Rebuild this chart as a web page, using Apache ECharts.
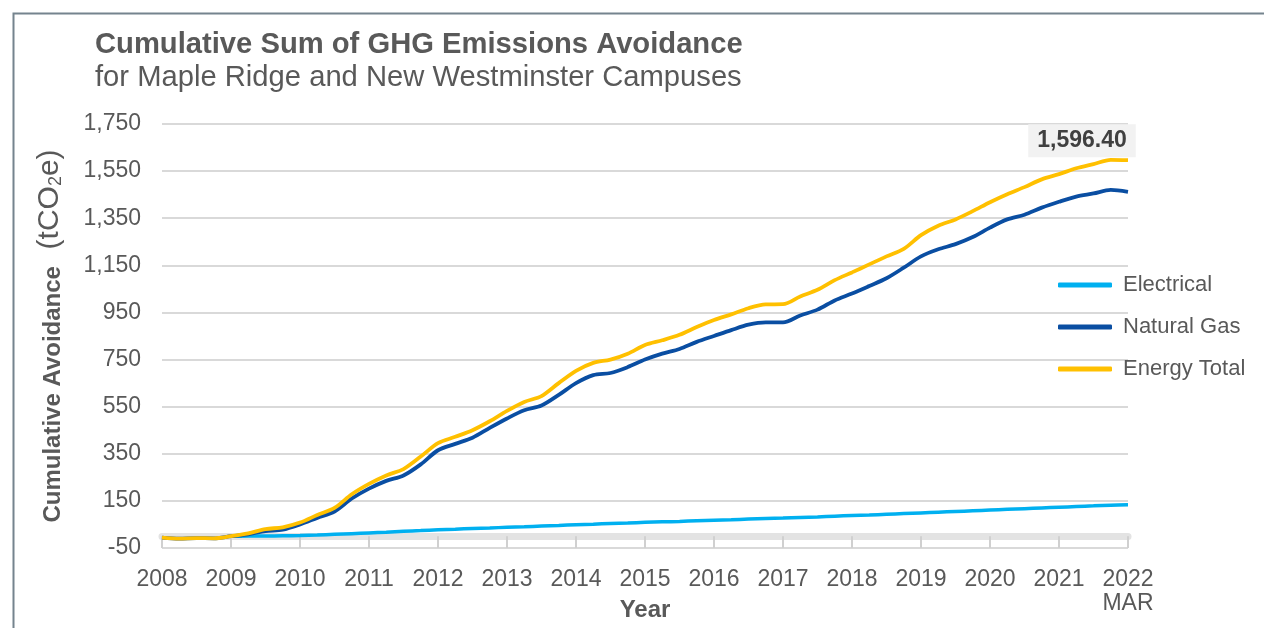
<!DOCTYPE html>
<html>
<head>
<meta charset="utf-8">
<script src="https://cdn.jsdelivr.net/npm/echarts@6/dist/echarts.min.js"></script>
<style>
html,body{margin:0;padding:0;background:#fff;}
#chart{width:1264px;height:628px;}
</style>
</head>
<body>
<div id="chart"></div>
<script>
// Month index from start of the 2008 tick (quarterly readings)
const months = [0,3,6,9,12,15,18,21,24,27,30,33,36,39,42,45,48,51,54,57,60,63,66,69,72,75,78,81,84,87,90,93,96,99,102,105,108,111,114,117,120,123,126,129,132,135,138,141,144,147,150,153,156,159,162,165,168];

const electrical = [null,null,null,null,0,0.5,1,2,3,5,8,11,14,17,21,24,27,30,33,35,38,40,43,46,49,51,54,56,59,61,63,66,68,70,73,75,77,80,82,85,88,90,93,96,99,102,105,108,111,114,117,120,123,126,129,132,134];

const naturalGas = [-6,-10,-8,-9,0,8,22,28,50,78,105,160,202,235,258,305,365,392,418,460,500,535,555,600,650,684,693,718,750,775,795,825,850,875,898,908,908,937,962,1001,1030,1062,1095,1140,1188,1218,1240,1270,1310,1345,1365,1395,1420,1442,1455,1470,1462];

const energyTotal = [-6,-10,-8,-9,0,12,30,38,58,90,120,178,222,258,285,338,395,422,450,488,532,570,595,650,702,736,750,775,812,832,855,888,918,942,968,984,985,1018,1046,1087,1120,1154,1188,1220,1278,1318,1345,1380,1418,1452,1482,1515,1537,1562,1580,1598,1596.40];

const xTickLabels = ['2008','2009','2010','2011','2012','2013','2014','2015','2016','2017','2018','2019','2020','2021','2022\nMAR'];
const seriesNames = ['Electrical','Natural Gas','Energy Total'];

const FONT = 'Liberation Sans, Arial, sans-serif';
const GREY = '#595959';

function pairs(vals){ return months.map((m,i)=>[m, vals[i]]); }
const lastIdx = months.length - 1;

const chart = echarts.init(document.getElementById('chart'));
chart.setOption({
  animation:false,
  backgroundColor:'#ffffff',
  graphic:[{type:'rect', left:11, top:11, shape:{width:1300, height:700}, style:{fill:'none', stroke:'#75848e', lineWidth:2}, z:-10}],
  title:[
    {text:'Cumulative Sum of GHG Emissions Avoidance', left:95, top:30, padding:0,
     textStyle:{fontFamily:FONT, fontSize:29.2, fontWeight:'bold', color:GREY}},
    {text:'for Maple Ridge and New Westminster Campuses', left:95, top:63, padding:0,
     textStyle:{fontFamily:FONT, fontSize:29.2, fontWeight:'normal', color:GREY}}
  ],
  legend:{
    orient:'vertical', left:1053, top:268, itemWidth:54, itemHeight:5, itemGap:18,
    icon:'roundRect',
    data:seriesNames,
    textStyle:{fontFamily:FONT, fontSize:22, color:GREY, lineHeight:24, padding:[0,0,0,6]}
  },
  grid:{left:162, right:136, top:124, bottom:80, containLabel:false, outerBoundsMode:'none'},
  xAxis:[{
    type:'value', min:0, max:168, interval:12,
    name:'Year', nameLocation:'middle', nameGap:50, nameMoveOverlap:false,
    nameTextStyle:{fontFamily:FONT, fontSize:24, fontWeight:'bold', color:GREY},
    axisLine:{onZero:true, lineStyle:{color:'#e3e3e3', width:7}},
    axisTick:{show:true, length:9, lineStyle:{color:'#d0d0d0', width:2}},
    axisLabel:{margin:20, fontFamily:FONT, fontSize:23, color:GREY, lineHeight:24,
      formatter: v => xTickLabels[Math.round(v/12)]},
    splitLine:{show:false}
  },{
    type:'value', min:0, max:168, interval:12, position:'bottom',
    axisLine:{show:false, onZero:true},
    axisTick:{show:true, inside:true, length:6, lineStyle:{color:'#d0d0d0', width:2}},
    axisLabel:{show:false}, splitLine:{show:false}
  }],
  yAxis:{
    type:'value', min:-50, max:1750, interval:200,
    name:'{b|Cumulative Avoidance}{r|  (tCO}{s|2}{r|e)}',
    nameLocation:'middle', nameGap:97, nameRotate:90, nameMoveOverlap:false,
    nameTextStyle:{fontFamily:FONT, fontSize:24, color:GREY,
      rich:{
        b:{fontFamily:FONT, fontSize:24, fontWeight:'bold', color:GREY, lineHeight:30, verticalAlign:'bottom'},
        r:{fontFamily:FONT, fontSize:30, color:GREY, lineHeight:30, verticalAlign:'bottom'},
        s:{fontFamily:FONT, fontSize:18, color:GREY, lineHeight:15, verticalAlign:'bottom'}
      }},
    axisLine:{show:false}, axisTick:{show:false},
    axisLabel:{margin:21, fontFamily:FONT, fontSize:23, color:GREY,
      formatter: v => v.toLocaleString('en-US')},
    splitLine:{show:true, lineStyle:{color:'#d9d9d9', width:2}}
  },
  series:[
    {name:seriesNames[0], type:'line', data:pairs(electrical), showSymbol:false, symbol:'none', smooth:0.3,
     lineStyle:{width:3.5, color:'#00b0f0'}, itemStyle:{color:'#00b0f0'}},
    {name:seriesNames[1], type:'line', data:pairs(naturalGas), showSymbol:false, symbol:'none', smooth:0.3,
     lineStyle:{width:3.8, color:'#0a4ea2'}, itemStyle:{color:'#0a4ea2'}},
    {name:seriesNames[2], type:'line', data:pairs(energyTotal), showSymbol:false, symbol:'none', smooth:0.3,
     lineStyle:{width:3.8, color:'#ffc000'}, itemStyle:{color:'#ffc000'},
     markPoint:{
       symbol:'rect', symbolSize:0, silent:true,
       data:[{coord:[months[lastIdx], energyTotal[lastIdx]], value:energyTotal[lastIdx]}],
       label:{show:true, position:'top', distance:3, offset:[-46,0],
         formatter: d => Number(d.value).toLocaleString('en-US',{minimumFractionDigits:2,maximumFractionDigits:2}),
         fontFamily:FONT, fontSize:23, fontWeight:'bold', color:'#404040',
         backgroundColor:'#f2f2f2', padding:[5,9,5,9]}
     }}
  ]
});
</script>
</body>
</html>
